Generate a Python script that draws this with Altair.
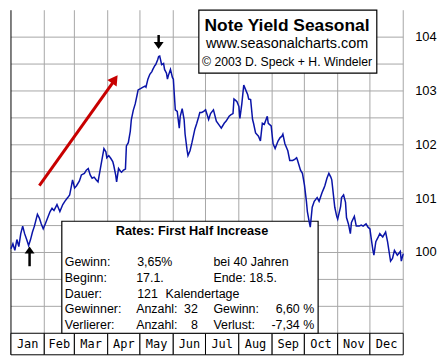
import altair as alt
import pandas as pd

# ---- data (day of year, yield-index value) ----
days = [0, 1.8, 3.6, 5.5, 7.3, 9.1, 10.9, 12.7, 14.6, 16.4, 18.2, 20.0, 21.8, 24.6, 26.4, 28.2, 30.0, 31.9,
        34.6, 36.4, 38.2, 40.0, 42.8, 45.5, 48.2, 50.1, 52.8, 54.6, 56.4, 57.3, 59.2, 61.0, 63.7, 65.5, 68.3,
        70.1, 71.9, 73.7, 75.5, 77.4, 79.2, 81.0, 83.7, 86.5, 88.3, 89.2, 91.0, 92.8, 94.7, 95.6, 97.4, 98.3,
        100.1, 101.9, 102.9, 104.7, 106.5, 107.4, 109.2, 111.0, 112.0, 113.8, 115.6, 117.4, 118.3, 120.1,
        122.9, 124.7, 125.6, 127.4, 129.2, 131.1, 132.0, 133.8, 134.7, 136.5, 137.4, 138.4, 140.2, 142.0,
        142.9, 144.7, 145.6, 146.5, 148.4, 150.2, 151.1, 152.0, 152.9, 154.7, 156.6, 157.5, 159.3, 161.1,
        162.0, 163.8, 164.7, 166.6, 168.4, 171.1, 172.9, 174.8, 175.7, 177.5, 179.3, 181.1, 183.9, 185.7,
        188.4, 191.1, 193.9, 195.7, 198.4, 200.2, 203.0, 204.8, 206.6, 207.5, 209.3, 210.3, 212.1, 213.0,
        214.8, 216.6, 218.4, 220.3, 221.2, 223.0, 224.8, 225.7, 227.6, 230.3, 232.1, 233.9, 235.7, 238.5,
        239.4, 242.1, 243.9, 245.8, 248.5, 250.3, 252.1, 253.0, 254.9, 257.6, 259.4, 262.1, 264.0, 265.8,
        266.7, 269.4, 271.2, 273.1, 274.9, 275.8, 277.6, 278.5, 280.3, 282.2, 284.9, 286.7, 289.4, 291.3,
        292.2, 294.0, 295.8, 297.6, 298.5, 301.3, 303.1, 304.0, 306.7, 307.6, 309.5, 311.3, 312.2, 314.0,
        315.8, 316.8, 319.5, 321.3, 324.0, 325.9, 327.7, 330.4, 332.2, 334.0, 335.0, 336.8, 337.7, 339.5,
        341.3, 343.2, 345.9, 348.6, 350.4, 353.2, 355.0, 356.8, 359.5, 362.3, 363.2, 365.0]
values = [100.07, 100.16, 100.04, 100.24, 100.11, 100.35, 100.49, 100.35, 100.24, 100.13, 100.24, 100.38,
          100.49, 100.71, 100.64, 100.53, 100.44, 100.53, 100.67, 100.76, 100.82, 100.78, 100.89, 100.76,
          100.89, 100.95, 101.02, 101.07, 101.25, 101.35, 101.20, 101.24, 101.33, 101.44, 101.47, 101.53,
          101.56, 101.44, 101.38, 101.40, 101.35, 101.31, 101.62, 101.93, 101.87, 101.76, 101.80, 101.75,
          101.69, 101.62, 101.44, 101.31, 101.56, 101.51, 101.49, 101.53, 101.55, 101.98, 102.04, 102.25,
          102.47, 102.64, 102.76, 102.93, 103.02, 103.04, 103.07, 103.09, 103.07, 103.22, 103.31, 103.36,
          103.40, 103.47, 103.49, 103.58, 103.64, 103.65, 103.49, 103.51, 103.40, 103.33, 103.22, 103.29,
          103.40, 103.25, 103.22, 102.93, 102.65, 102.62, 102.31, 102.53, 102.67, 102.47, 102.20, 101.91,
          101.80, 101.89, 102.04, 102.29, 102.40, 102.53, 102.60, 102.60, 102.62, 102.65, 102.47, 102.58,
          102.65, 102.44, 102.36, 102.31, 102.40, 102.44, 102.53, 102.56, 102.58, 102.85, 102.82, 102.80,
          102.71, 102.49, 102.76, 103.11, 103.02, 102.93, 102.85, 102.84, 102.47, 102.40, 102.22, 102.16,
          102.07, 102.40, 102.38, 102.53, 102.40, 102.35, 102.02, 101.93, 102.07, 102.13, 102.16, 102.20,
          102.02, 101.89, 101.71, 101.71, 101.73, 101.76, 101.71, 101.53, 101.47, 101.25, 100.95, 100.76,
          100.56, 100.47, 100.84, 100.95, 101.02, 100.95, 101.11, 101.20, 101.25, 101.38, 101.47, 101.40,
          101.35, 100.84, 100.67, 100.62, 100.85, 101.02, 101.07, 100.93, 100.65, 100.53, 100.35, 100.56,
          100.67, 100.49, 100.49, 100.51, 100.49, 100.53, 100.47, 100.44, 100.29, 100.04, 99.95, 100.20,
          100.27, 100.35, 100.29, 100.38, 100.20, 99.84, 99.89, 100.04, 99.95, 100.02, 99.84, 99.98]
assert len(days) == len(values)

months = ["Jan", "Feb", "Mar", "Apr", "May", "Jun", "Jul", "Aug", "Sep", "Oct", "Nov", "Dec"]
month_start = [0, 31, 59, 90, 120, 151, 181, 212, 243, 273, 304, 334]
month_end = [31, 59, 90, 120, 151, 181, 212, 243, 273, 304, 334, 365]
hgrid = [99, 99.5, 100, 100.5, 101, 101.5, 102, 102.5, 103, 103.5, 104]
axis_values = [100, 101, 102, 103, 104]

title_lines = ["Note Yield Seasonal", "www.seasonalcharts.com", "\u00a9 2003 D. Speck + H. Windeler"]
title_y = [104.11, 103.80, 103.47]
title_sizes = [17.5, 14.5, 12.3]

info_title = "Rates: First Half Increase"
row_y = [99.745, 99.454, 99.163, 98.872, 98.581]
left_texts = [  # (text, x-day, row)
    ("Gewinn:", 50.1, 0), ("3,65%", 117.4, 0), ("bei 40 Jahren", 188.4, 0),
    ("Beginn:", 50.1, 1), ("17.1.", 116.5, 1), ("Ende: 18.5.", 188.4, 1),
    ("Dauer:", 50.1, 2), ("121", 117.4, 2), ("Kalendertage", 143.8, 2),
    ("Gewinner:", 50.1, 3), ("Anzahl:", 116.5, 3), ("Gewinn:", 188.4, 3),
    ("Verlierer:", 50.1, 4), ("Anzahl:", 116.5, 4), ("Verlust:", 188.4, 4),
]
right_texts = [("32", 173.9, 3), ("6,60 %", 282.2, 3), ("8", 173.9, 4), ("-7,34 %", 282.2, 4)]

XS = alt.Scale(domain=[0, 365], nice=False, zero=False)
YS = alt.Scale(domain=[98.1, 104.5], nice=False, zero=False)
FONT = "Liberation Sans"


def X(f):
    return alt.X(f, type="quantitative", scale=XS, axis=None)


def Y(f):
    return alt.Y(f, type="quantitative", scale=YS, axis=None)


line_df = pd.DataFrame({"d": days, "v": values})
vgrid_df = pd.DataFrame({"x": month_end, "y": 98.5, "y2": 104.5})
hgrid_df = pd.DataFrame({"y": hgrid, "x": 0, "x2": 365})
band_df = pd.DataFrame({"m": months, "x": month_start, "x2": month_end,
                        "xc": [(a + b) / 2 for a, b in zip(month_start, month_end)],
                        "y": 98.1, "y2": 98.5, "yc": 98.3})
ylab_df = pd.DataFrame({"t": [str(v) for v in axis_values], "x": 365, "y": axis_values})

grid_v = alt.Chart(vgrid_df).mark_rule(color="#a6a6a6", strokeWidth=1).encode(
    x=X("x"), y=Y("y"), y2="y2")
grid_h = alt.Chart(hgrid_df).mark_rule(color="#a6a6a6", strokeWidth=1).encode(
    y=Y("y"), x=X("x"), x2="x2")
left_edge = alt.Chart(pd.DataFrame({"x": [0], "y": [98.1], "y2": [104.5]})).mark_rule(
    color="black", strokeWidth=1).encode(x=X("x"), y=Y("y"), y2="y2")

band = alt.Chart(band_df).mark_rect(fill="white", stroke="black", strokeWidth=1).encode(
    x=X("x"), x2="x2", y=Y("y"), y2="y2")
band_text = alt.Chart(band_df).mark_text(font="DejaVu Sans Mono", fontSize=12, color="black",
                                         baseline="middle", align="center").encode(
    x=X("xc"), y=Y("yc"), text="m:N")

ylabels = alt.Chart(ylab_df).mark_text(font=FONT, fontSize=13, color="black", align="left",
                                       baseline="middle", dx=12).encode(
    x=X("x"), y=Y("y"), text="t:N")

boxes_df = pd.DataFrame({"x": [174.8, 47.3], "x2": [340.4, 285.8],
                         "y": [103.33, 98.5], "y2": [104.5, 100.58]})
boxes = alt.Chart(boxes_df).mark_rect(fill="white", stroke="black", strokeWidth=1.2).encode(
    x=X("x"), x2="x2", y=Y("y"), y2="y2")

title_layers = []
for t, yv, s in zip(title_lines, title_y, title_sizes):
    title_layers.append(
        alt.Chart(pd.DataFrame({"t": [t], "x": [256.9], "y": [yv]})).mark_text(
            font=FONT, fontSize=s, fontWeight="bold" if s > 16 else "normal", color="black",
            align="center", baseline="alphabetic").encode(x=X("x"), y=Y("y"), text="t:N"))

info_title_layer = alt.Chart(pd.DataFrame({"t": [info_title], "x": [168.4], "y": [100.33]})).mark_text(
    font=FONT, fontSize=12.8, fontWeight="bold", color="black", align="center",
    baseline="alphabetic").encode(x=X("x"), y=Y("y"), text="t:N")

lt_df = pd.DataFrame({"t": [a for a, _, _ in left_texts], "x": [b for _, b, _ in left_texts],
                      "y": [row_y[r] for _, _, r in left_texts]})
rt_df = pd.DataFrame({"t": [a for a, _, _ in right_texts], "x": [b for _, b, _ in right_texts],
                      "y": [row_y[r] for _, _, r in right_texts]})
left_layer = alt.Chart(lt_df).mark_text(font=FONT, fontSize=12.5, color="black", align="left",
                                        baseline="alphabetic").encode(x=X("x"), y=Y("y"), text="t:N")
right_layer = alt.Chart(rt_df).mark_text(font=FONT, fontSize=12.5, color="black", align="right",
                                         baseline="alphabetic").encode(x=X("x"), y=Y("y"), text="t:N")

line = alt.Chart(line_df).mark_line(color="#0a14a8", strokeWidth=1.5).encode(
    x=X("d"), y=Y("v"))

# arrows
red_shaft = alt.Chart(pd.DataFrame({"x": [26.4], "x2": [95.6], "y": [101.24], "y2": [103.18]})).mark_rule(
    color="#c80000", strokeWidth=3).encode(x=X("x"), x2="x2", y=Y("y"), y2="y2")
red_head = alt.Chart(pd.DataFrame({"x": [96.6], "y": [103.216]})).mark_point(
    shape="triangle-up", filled=True, color="#c80000", opacity=1, size=130, angle=35).encode(
    x=X("x"), y=Y("y"))

blk_shafts = alt.Chart(pd.DataFrame({"x": [137.4, 17.3], "y": [104.04, 99.745],
                                     "y2": [103.87, 100.0]})).mark_rule(
    color="black", strokeWidth=2.5).encode(x=X("x"), y=Y("y"), y2="y2")
down_head = alt.Chart(pd.DataFrame({"x": [137.4], "y": [103.845]})).mark_point(
    shape="M-1,-0.7L1,-0.7L0,0.7Z", filled=True, color="black", opacity=1, size=100).encode(
    x=X("x"), y=Y("y"))
up_head = alt.Chart(pd.DataFrame({"x": [17.3], "y": [100.045]})).mark_point(
    shape="M-1,0.7L1,0.7L0,-0.7Z", filled=True, color="black", opacity=1, size=100).encode(
    x=X("x"), y=Y("y"))

chart = alt.layer(
    grid_v, grid_h, left_edge, band, boxes, band_text, ylabels, *title_layers, info_title_layer,
    left_layer, right_layer, line, red_shaft, red_head, blk_shafts, down_head, up_head
).properties(
    width=395, height=347,
    padding={"left": 0, "top": 0, "right": 0, "bottom": 0},
    background="white",
).configure_view(stroke=None)

chart.save("out.html", embed_options={"renderer": "svg", "actions": False})
